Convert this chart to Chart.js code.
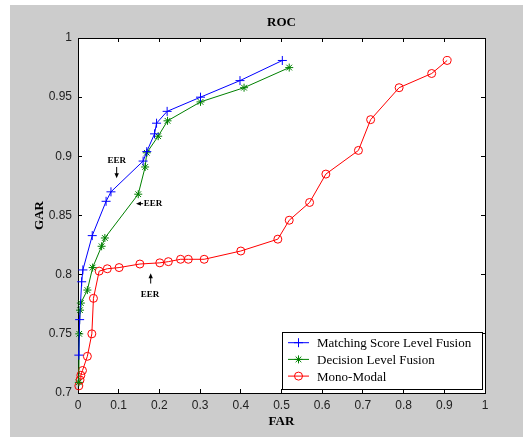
<!DOCTYPE html>
<html>
<head>
<meta charset="utf-8">
<script src="https://cdn.jsdelivr.net/npm/chart.js@4.4.0/dist/chart.umd.min.js"></script>
<style>
html, body { margin: 0; padding: 0; background: #fff; }
#wrap { width: 523px; height: 437px; }
</style>
</head>
<body>
<div id="wrap"><canvas id="roc" width="523" height="437"></canvas></div>
<script>
// Matching Score Level Fusion
const msFar = [0.002, 0.004, 0.009, 0.012, 0.035, 0.069, 0.081, 0.160, 0.169, 0.188, 0.193, 0.219, 0.301, 0.398, 0.502];
const msGar = [0.732, 0.762, 0.794, 0.804, 0.833, 0.862, 0.870, 0.896, 0.904, 0.919, 0.928, 0.938, 0.950, 0.964, 0.981];
// Decision Level Fusion
const dlFar = [0.002, 0.003, 0.005, 0.007, 0.023, 0.036, 0.058, 0.066, 0.148, 0.165, 0.169, 0.197, 0.220, 0.301, 0.408, 0.519];
const dlGar = [0.709, 0.750, 0.770, 0.776, 0.787, 0.806, 0.824, 0.831, 0.868, 0.891, 0.903, 0.917, 0.930, 0.946, 0.958, 0.975];
// Mono-Modal
const mmFar = [0.002, 0.005, 0.007, 0.011, 0.023, 0.034, 0.038, 0.052, 0.072, 0.101, 0.152, 0.201, 0.222, 0.252, 0.271, 0.310, 0.400, 0.491, 0.519, 0.569, 0.609, 0.689, 0.719, 0.789, 0.869, 0.907];
const mmGar = [0.706, 0.711, 0.715, 0.719, 0.731, 0.750, 0.780, 0.803, 0.805, 0.806, 0.809, 0.810, 0.811, 0.813, 0.813, 0.813, 0.820, 0.830, 0.846, 0.861, 0.885, 0.905, 0.931, 0.958, 0.970, 0.981];

const seriesNames = ['Matching Score Level Fusion', 'Decision Level Fusion', 'Mono-Modal'];

// EER notes: text spot and arrow tail -> head, in FAR/GAR units
const eerTextX = [0.095, 0.184, 0.177];
const eerTextY = [0.8963, 0.860, 0.783];
const eerTail = [[0.095, 0.891], [0.160, 0.860], [0.1786, 0.7925]];
const eerHead = [[0.095, 0.8815], [0.1425, 0.860], [0.1786, 0.8012]];

function pts(xs, ys) {
    return xs.map((x, i) => ({ x: x, y: ys[i] }));
}
function fmt(v) {
    return String(+v.toFixed(2));
}

const SERIF = '"Liberation Serif", "DejaVu Serif", serif';
const SANS = '"Liberation Sans", Arial, sans-serif';

const figBg = {
    id: 'figBg',
    beforeDraw(chart) {
        const ctx = chart.ctx, a = chart.chartArea;
        ctx.save();
        ctx.fillStyle = '#cccccc';
        ctx.fillRect(10, 5, chart.width - 10, chart.height - 5);
        ctx.fillStyle = '#ffffff';
        ctx.fillRect(a.left, a.top, a.right - a.left, a.bottom - a.top);
        ctx.restore();
    }
};

const eerNotes = {
    id: 'eerNotes',
    afterDatasetsDraw(chart) {
        const ctx = chart.ctx, sx = chart.scales.x, sy = chart.scales.y;
        ctx.save();
        ctx.fillStyle = '#000';
        ctx.strokeStyle = '#000';
        ctx.lineWidth = 1;
        ctx.font = 'bold 9px ' + SERIF;
        ctx.textAlign = 'center';
        ctx.textBaseline = 'middle';
        for (let i = 0; i < eerTextX.length; i++) {
            ctx.fillText('EER', sx.getPixelForValue(eerTextX[i]), sy.getPixelForValue(eerTextY[i]));
            let x1 = sx.getPixelForValue(eerTail[i][0]), y1 = sy.getPixelForValue(eerTail[i][1]);
            let x2 = sx.getPixelForValue(eerHead[i][0]), y2 = sy.getPixelForValue(eerHead[i][1]);
            let ang = Math.atan2(y2 - y1, x2 - x1);
            ctx.beginPath();
            ctx.moveTo(x1, y1);
            ctx.lineTo(x2 - Math.cos(ang) * 3, y2 - Math.sin(ang) * 3);
            ctx.stroke();
            ctx.beginPath();
            ctx.moveTo(x2, y2);
            ctx.lineTo(x2 - Math.cos(ang) * 5 + Math.sin(ang) * 2.2, y2 - Math.sin(ang) * 5 - Math.cos(ang) * 2.2);
            ctx.lineTo(x2 - Math.cos(ang) * 5 - Math.sin(ang) * 2.2, y2 - Math.sin(ang) * 5 + Math.cos(ang) * 2.2);
            ctx.closePath();
            ctx.fill();
        }
        ctx.restore();
    }
};

// MATLAB style legend box in the lower right corner of the axes
const boxLegend = {
    id: 'boxLegend',
    afterDraw(chart) {
        const ctx = chart.ctx, a = chart.chartArea;
        const w = 200, h = 57;
        const left = a.right - 3 - w, top = a.bottom - 4 - h;
        ctx.save();
        ctx.fillStyle = '#fff';
        ctx.fillRect(left, top, w, h);
        ctx.strokeStyle = '#000';
        ctx.lineWidth = 1;
        ctx.strokeRect(Math.round(left) + 0.5, Math.round(top) + 0.5, w, h);
        ctx.font = '13px ' + SERIF;
        ctx.textBaseline = 'middle';
        ctx.textAlign = 'left';
        chart.data.datasets.forEach((ds, i) => {
            const y = top + 10.7 + i * 16.7;
            ctx.strokeStyle = ds.borderColor;
            ctx.lineWidth = 1;
            ctx.beginPath();
            ctx.moveTo(left + 6, y);
            ctx.lineTo(left + 27, y);
            ctx.stroke();
            ctx.fillStyle = 'rgba(0,0,0,0)';
            Chart.helpers.drawPoint(ctx, {
                pointStyle: ds.pointStyle, radius: ds.pointRadius, borderWidth: 1, rotation: 0
            }, left + 16.5, y);
            ctx.fillStyle = '#000';
            ctx.fillText(ds.label, left + 35, y + 1);
        });
        ctx.restore();
    }
};

const inTicks = { drawOnChartArea: false, drawTicks: true, tickLength: -4, color: '#000', tickColor: '#000', tickWidth: 1 };
const frame = { display: true, color: '#000', width: 1 };

new Chart(document.getElementById('roc'), {
    type: 'scatter',
    data: {
        datasets: [
            {
                label: seriesNames[0], data: pts(msFar, msGar), showLine: true,
                borderColor: '#0000ff', backgroundColor: 'rgba(0,0,0,0)', borderWidth: 1,
                pointStyle: 'cross', pointRadius: 4.5, pointBorderWidth: 1, pointBorderColor: '#0000ff',
                pointBackgroundColor: 'rgba(0,0,0,0)', clip: false
            },
            {
                label: seriesNames[1], data: pts(dlFar, dlGar), showLine: true,
                borderColor: '#008000', backgroundColor: 'rgba(0,0,0,0)', borderWidth: 1,
                pointStyle: 'star', pointRadius: 4, pointBorderWidth: 1, pointBorderColor: '#008000',
                pointBackgroundColor: 'rgba(0,0,0,0)', clip: false
            },
            {
                label: seriesNames[2], data: pts(mmFar, mmGar), showLine: true,
                borderColor: '#ff0000', backgroundColor: 'rgba(0,0,0,0)', borderWidth: 1,
                pointStyle: 'circle', pointRadius: 4, pointBorderWidth: 1, pointBorderColor: '#ff0000',
                pointBackgroundColor: 'rgba(0,0,0,0)', clip: false
            }
        ]
    },
    options: {
        responsive: false,
        animation: false,
        devicePixelRatio: 1,
        layout: { padding: { left: 10, right: 38, top: 5, bottom: 7 } },
        elements: { line: { tension: 0 } },
        plugins: {
            legend: { display: false },
            tooltip: { enabled: false },
            title: {
                display: true, text: 'ROC', color: '#000', fullSize: false,
                font: { family: SERIF, size: 13, weight: 'bold' },
                padding: { top: 10, bottom: 7.4 }
            }
        },
        scales: {
            x: {
                type: 'linear', position: 'bottom', min: 0, max: 1,
                ticks: { stepSize: 0.1, padding: 9, color: '#222', font: { family: SANS, size: 12 }, callback: fmt, maxRotation: 0, autoSkip: false },
                grid: inTicks, border: frame,
                title: { display: true, text: 'FAR', color: '#000', font: { family: SERIF, size: 13, weight: 'bold' }, padding: { top: 0, bottom: 0.5 } },
                afterFit(s) { s.height = 37; }
            },
            y: {
                type: 'linear', position: 'left', min: 0.7, max: 1,
                ticks: { stepSize: 0.05, padding: 10, color: '#222', font: { family: SANS, size: 12 }, callback: fmt, autoSkip: false },
                grid: inTicks, border: frame,
                title: { display: true, text: 'GAR', color: '#000', font: { family: SERIF, size: 13, weight: 'bold' }, padding: { top: 22, bottom: 0 } },
                afterFit(s) { s.width = 68; }
            },
            x2: {
                type: 'linear', position: 'top', min: 0, max: 1,
                ticks: { stepSize: 0.1, display: false },
                grid: inTicks, border: frame,
                afterFit(s) { s.height = 0; }
            },
            y2: {
                type: 'linear', position: 'right', min: 0.7, max: 1,
                ticks: { stepSize: 0.05, display: false },
                grid: inTicks, border: frame,
                afterFit(s) { s.width = 0; }
            }
        }
    },
    plugins: [figBg, eerNotes, boxLegend]
});
</script>
</body>
</html>
